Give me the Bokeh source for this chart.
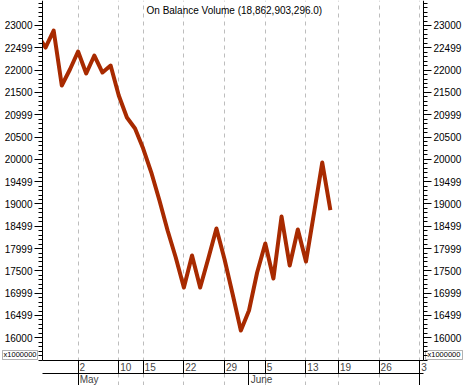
from bokeh.plotting import figure
from bokeh.models import Range1d, LinearAxis, FixedTicker, Grid, Label, BoxAnnotation
from bokeh.embed import file_html
from bokeh.resources import INLINE

# Trading days (2006)
dates = ["04-24", "04-25", "04-26", "04-27", "04-28",
         "05-02", "05-03", "05-04", "05-05", "05-06",
         "05-10", "05-11", "05-12",
         "05-15", "05-16", "05-17", "05-18", "05-19",
         "05-22", "05-23", "05-24", "05-25", "05-26",
         "05-29", "05-30", "05-31", "06-01", "06-02",
         "06-05", "06-06", "06-07", "06-08", "06-09",
         "06-13", "06-14", "06-15", "06-16"]
# On Balance Volume, millions
obv = [22798, 22506, 22887, 21655, 22013, 22417, 21924, 22327, 21946, 22103,
       21430, 20937, 20691, 20242, 19704, 19077, 18404, 17799, 17126, 17844,
       17126, 17776, 18449, 17754, 16969, 16162, 16611, 17463, 18113, 17328,
       18718, 17620, 18427, 17709, 18808, 19928, 18862.9]

week_ticks = [0, 5, 10, 13, 18, 23, 28, 33, 37, 42, 47]
week_labels = ["24", "2", "10", "15", "22", "29", "5", "13", "19", "26", "3"]
month_ticks = [5, 26, 47]
month_labels = ["May", "June", ""]
y_ticks = [16000, 16500, 17000, 17500, 18000, 18500, 19000, 19500, 20000,
           20500, 21000, 21500, 22000, 22500, 23000]
y_labels = ["16000", "16499", "16999", "17500", "17999", "18499", "19000", "19499",
            "20000", "20500", "20999", "21500", "22000", "22499", "23000"]
title_text = "On Balance Volume (18,862,903,296.0)"
unit_text = "x1000000"
unit_at = 15624

NB = "\u00a0"


def pad_left(label, n):
    # centred axis label shifted so that the visible text starts just right of its tick
    return NB * n + label if label else ""


x = list(range(len(dates)))

W, H = 465, 385
# visible chart area (between the two value axes, above the date rows)
X0, X1 = 0.63, 47.44
Y0, Y1 = 15491, 23560
# whole canvas in data units
XA, XB = -4.53, 52.6
YA = 14931
Y_MONTH = 15201


def px_x(px):
    return XA + px * (XB - XA) / W


def px_y(py):
    return Y1 - py * (Y1 - YA) / H


p = figure(width=W, height=H, x_range=Range1d(XA, XB), y_range=Range1d(YA, Y1),
           x_axis_location=None, y_axis_location=None, toolbar_location=None,
           output_backend="svg", min_border=0)
p.outline_line_color = None
p.background_fill_color = "white"
p.border_fill_color = "white"
p.grid.visible = False

in_view = lambda t: X0 <= t <= X1

grid = Grid(dimension=0, ticker=FixedTicker(ticks=[t for t in week_ticks if in_view(t)], minor_ticks=[]))
grid.grid_line_color = "#BDBDBD"
grid.grid_line_dash = "4 4"
grid.grid_line_width = 1
grid.bounds = (Y0, Y1)
p.add_layout(grid)

p.line(x=x, y=obv, line_width=4, line_color="#A82A00", line_join="round")
# keep the line inside the chart area
for l, r in ((XA, X0), (X1, XB)):
    p.add_layout(BoxAnnotation(left=l, right=r, bottom=Y0, top=Y1, fill_color="white",
                               fill_alpha=1.0, line_color=None, level="glyph"))

yt = FixedTicker(ticks=y_ticks, minor_ticks=list(range(15500, 23600, 100)))
yover = {t: l for t, l in zip(y_ticks, y_labels)}
for side, loc, stand, box in (("left", X0, 6, (2, 37)), ("right", X1, 4, (425, 462))):
    ax = LinearAxis(ticker=yt, fixed_location=loc, bounds=(Y0, Y1))
    ax.major_label_overrides = yover
    ax.major_tick_out = 8
    ax.major_tick_in = 0
    ax.minor_tick_out = 4
    ax.minor_tick_in = 0
    ax.major_label_standoff = 2
    ax.major_label_text_font = "Liberation Sans"
    ax.major_label_text_font_size = "10px"
    ax.major_label_text_color = "black"
    ax.axis_line_color = "black"
    ax.major_tick_line_color = "black"
    ax.minor_tick_line_color = "black"
    p.add_layout(ax, side)

    ua = LinearAxis(ticker=FixedTicker(ticks=[unit_at], minor_ticks=[]), fixed_location=loc)
    ua.major_label_overrides = {unit_at: unit_text}
    ua.axis_line_color = None
    ua.major_tick_line_color = None
    ua.minor_tick_line_color = None
    ua.major_tick_out = 0
    ua.major_tick_in = 0
    ua.major_label_standoff = stand
    ua.major_label_text_font = "Liberation Sans"
    ua.major_label_text_font_size = "7.5px"
    ua.major_label_text_color = "black"
    p.add_layout(ua, side)

    p.add_layout(BoxAnnotation(left=px_x(box[0]), right=px_x(box[1]),
                               top=px_y(350), bottom=px_y(359),
                               fill_alpha=0.0, line_color="black", line_width=1))

# week row
wt = FixedTicker(ticks=[t for t in week_ticks if in_view(t)] + [26], minor_ticks=[])
wax = LinearAxis(ticker=wt, fixed_location=Y0, bounds=(X0, X1))
wover = {t: pad_left(l, 2 * len(l) + 1) for t, l in zip(week_ticks, week_labels)}
wover[26] = ""
wax.major_label_overrides = wover
wax.major_tick_out = 13
wax.major_tick_in = 0
wax.minor_tick_out = 0
wax.major_label_standoff = -12
wax.major_label_text_font = "Liberation Sans"
wax.major_label_text_font_size = "10px"
wax.axis_line_color = "black"
p.add_layout(wax, "below")

# month row
mt = FixedTicker(ticks=month_ticks, minor_ticks=[])
max_ = LinearAxis(ticker=mt, fixed_location=Y_MONTH, bounds=(X0, X1))
max_.major_label_overrides = {t: pad_left(l, 8 if l == "May" else 9)
                              for t, l in zip(month_ticks, month_labels)}
max_.major_tick_out = 12
max_.major_tick_in = 0
max_.minor_tick_out = 0
max_.major_label_standoff = -11
max_.major_label_text_font = "Liberation Sans"
max_.major_label_text_font_size = "10px"
max_.axis_line_color = "black"
p.add_layout(max_, "below")

p.add_layout(Label(x=13.41, y=23470, text=title_text, text_baseline="top",
                   text_font="Liberation Sans", text_font_size="10px", text_color="black"))

open("out.html", "w").write(file_html(p, INLINE))
